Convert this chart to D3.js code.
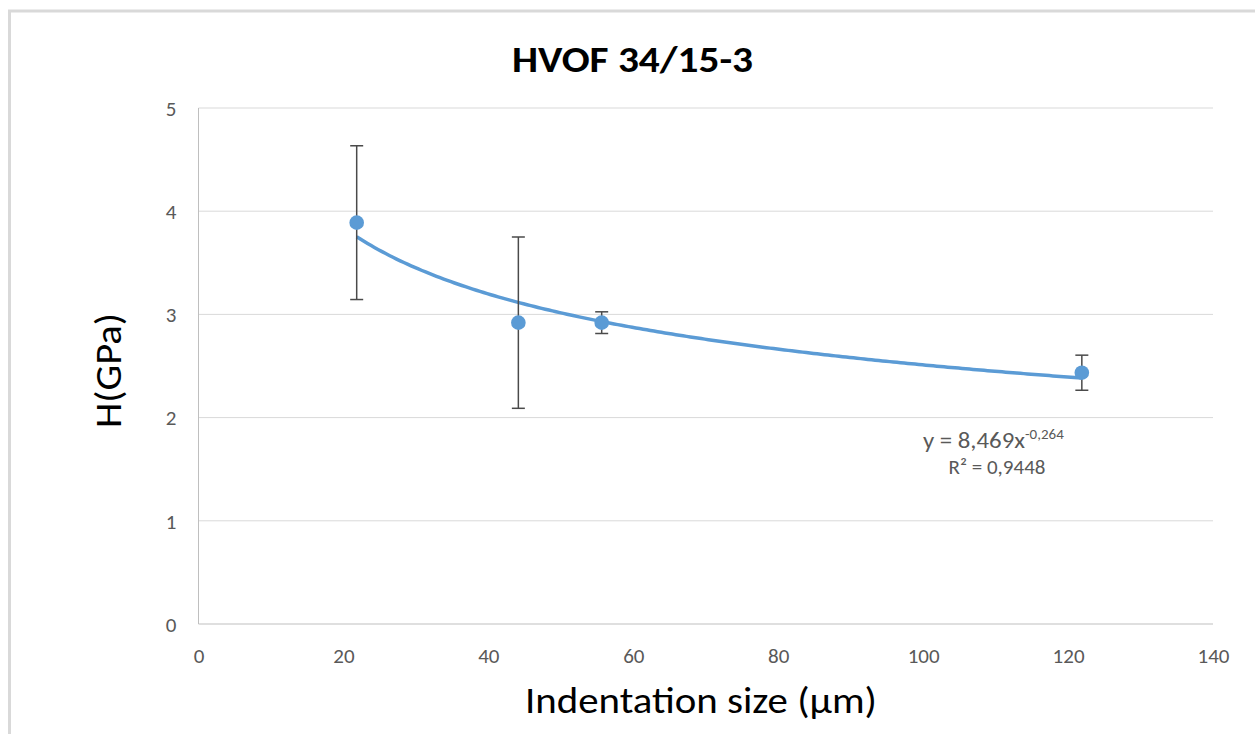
<!DOCTYPE html>
<html>
<head>
<meta charset="utf-8">
<script src="https://cdn.jsdelivr.net/npm/d3@7"></script>
<style>
  html, body { margin: 0; padding: 0; background: #fff; }
  svg { display: block; font-family: Carlito, Lato, "Open Sans", sans-serif; }
</style>
</head>
<body>
<svg id="chart" width="1255" height="734"></svg>
<script>
// ---- data ----
const xValues = [21.83, 44.14, 55.64, 121.9];
const yValues = [3.889, 2.920, 2.920, 2.435];
const yErrors = [0.745, 0.830, 0.105, 0.170];
const xTicks = [0, 20, 40, 60, 80, 100, 120, 140];
const yTicks = [0, 1, 2, 3, 4, 5];
const trendCoef = 8.469;
const trendExp = -0.264;
const titleText = "HVOF 34/15-3";
const xLabel = "Indentation size (μm)";
const yLabel = "H(GPa)";
const eqText = "y = 8,469x";
const eqExpText = "-0,264";
const r2Text = "R² = 0,9448";

const svg = d3.select("#chart");
const m = { left: 198.5, right: 1213, top: 108, bottom: 624 };

// outer border
svg.append("rect").attr("x", 9.5).attr("y", 11).attr("width", 1300).attr("height", 800)
  .attr("fill", "none").attr("stroke", "#d9d9d9").attr("stroke-width", 3);

const x = d3.scaleLinear().domain([0, 140]).range([m.left, m.right]);
const y = d3.scaleLinear().domain([0, 5]).range([m.bottom, m.top]);

// gridlines
svg.append("g").selectAll("line").data(yTicks.filter(d => d > 0)).join("line")
  .attr("x1", m.left).attr("x2", m.right)
  .attr("y1", d => y(d)).attr("y2", d => y(d))
  .attr("stroke", "#d9d9d9").attr("stroke-width", 1);

// axes lines
svg.append("line").attr("x1", m.left).attr("x2", m.right).attr("y1", y(0)).attr("y2", y(0))
  .attr("stroke", "#bfbfbf").attr("stroke-width", 1);
svg.append("line").attr("x1", m.left).attr("x2", m.left).attr("y1", y(0)).attr("y2", y(5))
  .attr("stroke", "#bfbfbf").attr("stroke-width", 1);

// tick labels
const tickFont = "21px";
const xAxis = d3.axisBottom(x).tickValues(xTicks).tickSize(0).tickPadding(0).tickFormat(d3.format("d"));
const gx = svg.append("g").attr("transform", `translate(0,${y(0)})`).call(xAxis);
gx.select(".domain").remove();
gx.selectAll("text").attr("dy", null).attr("y", 39).attr("fill", "#595959")
  .style("font-size", tickFont).style("font-family", "Carlito, Lato, sans-serif");

const yAxis = d3.axisLeft(y).tickValues(yTicks).tickSize(0).tickPadding(0).tickFormat(d3.format("d"));
const gy = svg.append("g").attr("transform", `translate(${m.left},0)`).call(yAxis);
gy.select(".domain").remove();
gy.selectAll("text").attr("x", -22).attr("dy", "0.35em").attr("fill", "#595959")
  .style("font-size", tickFont).style("font-family", "Carlito, Lato, sans-serif");

// trendline
const trendX = d3.range(0, 201).map(i => xValues[0] + (xValues[xValues.length - 1] - xValues[0]) * i / 200);
const line = d3.line().x(d => x(d)).y(d => y(trendCoef * Math.pow(d, trendExp)));
svg.append("path").datum(trendX).attr("d", line)
  .attr("fill", "none").attr("stroke", "#5b9bd5").attr("stroke-width", 3.5);

// error bars
const pts = xValues.map((v, i) => ({ x: v, y: yValues[i], e: yErrors[i] }));
const eb = svg.append("g").attr("stroke", "#4a4a4a").attr("stroke-width", 1.5);
eb.selectAll("line.v").data(pts).join("line").attr("class", "v")
  .attr("x1", d => x(d.x)).attr("x2", d => x(d.x))
  .attr("y1", d => y(d.y + d.e)).attr("y2", d => y(d.y - d.e));
eb.selectAll("line.t").data(pts).join("line").attr("class", "t")
  .attr("x1", d => x(d.x) - 6.5).attr("x2", d => x(d.x) + 6.5)
  .attr("y1", d => y(d.y + d.e)).attr("y2", d => y(d.y + d.e));
eb.selectAll("line.b").data(pts).join("line").attr("class", "b")
  .attr("x1", d => x(d.x) - 6.5).attr("x2", d => x(d.x) + 6.5)
  .attr("y1", d => y(d.y - d.e)).attr("y2", d => y(d.y - d.e));

// points
svg.append("g").selectAll("circle").data(pts).join("circle")
  .attr("cx", d => x(d.x)).attr("cy", d => y(d.y)).attr("r", 7.3)
  .attr("fill", "#5b9bd5");

// trend equation
const eq = svg.append("text").attr("x", 923).attr("y", 448).attr("text-anchor", "start")
  .attr("fill", "#595959").style("font-size", "22px");
eq.append("tspan").attr("textLength", 102).attr("lengthAdjust", "spacingAndGlyphs").text(eqText);
eq.append("tspan").attr("dy", -9).style("font-size", "15px").text(eqExpText);
svg.append("text").attr("x", 997).attr("y", 474).attr("text-anchor", "middle")
  .attr("fill", "#595959").style("font-size", "21px").text(r2Text);

// title
svg.append("text").attr("x", 512).attr("y", 72).attr("text-anchor", "start")
  .attr("textLength", 241).attr("lengthAdjust", "spacingAndGlyphs")
  .attr("fill", "#000").style("font-size", "37px").style("font-weight", "bold").text(titleText);

// axis titles
svg.append("text").attr("x", 525).attr("y", 713).attr("text-anchor", "start")
  .attr("textLength", 352).attr("lengthAdjust", "spacingAndGlyphs")
  .attr("fill", "#000").style("font-size", "36px").text(xLabel);
svg.append("text").attr("transform", "translate(121,428) rotate(-90)").attr("text-anchor", "start")
  .attr("textLength", 115).attr("lengthAdjust", "spacingAndGlyphs")
  .attr("fill", "#000").style("font-size", "37px").text(yLabel);
</script>
</body>
</html>
